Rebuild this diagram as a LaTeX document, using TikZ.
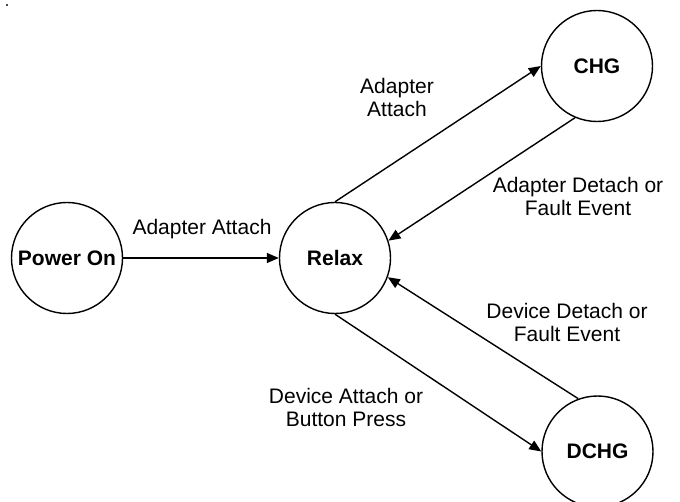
\documentclass[tikz,border=0pt]{standalone}
\usepackage{fontspec}
\setmainfont{Liberation Sans}
\usetikzlibrary{arrows.meta}
\begin{document}
\begin{tikzpicture}[x=1pt,y=-1pt,
  state/.style={circle,draw=black,line width=1.4pt,minimum size=111pt,inner sep=0pt,
    font=\fontsize{21}{23}\selectfont\bfseries},
  lbl/.style={align=center,inner sep=0pt,font=\fontsize{21}{23}\selectfont},
  conn/.style={line width=1.4pt,-{Triangle[length=12pt,width=10pt]}}]
\useasboundingbox (0,0) rectangle (680,502);
\fill[black!70] (6,4) rectangle (8,6);
\node[state] (power) at (67,258) {Power On};
\node[state] (relax) at (335,258) {Relax};
\node[state] (chg) at (597,66) {CHG};
\node[state] (dchg) at (597.5,451.5) {DCHG};
\draw[conn] (power) -- (relax);
\draw[conn] (relax.north) -- (chg.west);
\draw[conn] (chg.247) -- (relax.18);
\draw[conn] (relax.south) -- (dchg.west);
\draw[conn] (dchg.110) -- (relax.340);
\node[lbl] (l1) at (202,229) {Adapter Attach};
\node[lbl] (l2) at (397,97) {Adapter\\Attach};
\node[lbl] (l3) at (578,196) {Adapter Detach or\\Fault Event};
\node[lbl] (l4) at (567,322) {Device Detach or\\Fault Event};
\node[lbl] (l5) at (346,407) {Device Attach or\\Button Press};
\end{tikzpicture}
\end{document}
